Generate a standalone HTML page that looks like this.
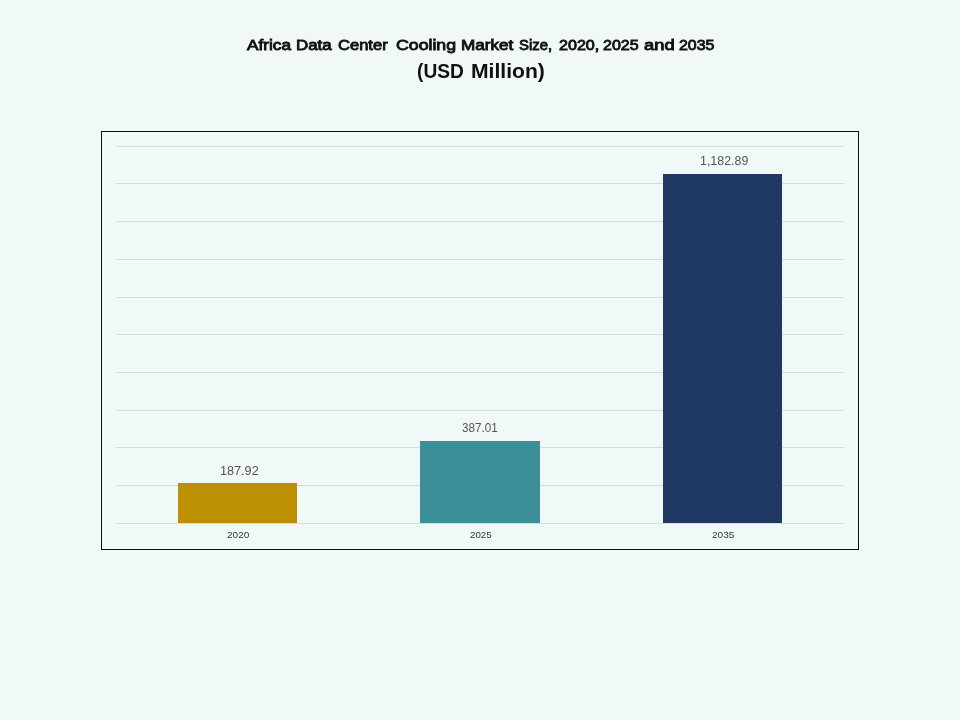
<!DOCTYPE html>
<html><head><meta charset="utf-8">
<style>
html,body{margin:0;padding:0;}
body{width:960px;height:720px;background:#f0f8f8;position:relative;overflow:hidden;font-family:"Liberation Sans",sans-serif;}
.abs{position:absolute;}
.frame{left:101px;top:131px;width:756px;height:417px;border:1.4px solid #0a0f0f;box-sizing:content-box;}
.g{left:116px;width:728px;height:1px;background:#d3dddd;}
.bar{position:absolute;}
.w{position:absolute;line-height:20px;white-space:nowrap;transform-origin:0 0;}
.w1{font-size:14.4px;-webkit-text-stroke:0.85px #111;color:#111;}
.w2{font-size:19.8px;font-weight:bold;color:#111;}
.v{font-size:12.7px;color:#555;}
.x{font-size:8.4px;color:#333;}
</style></head><body>
<div class="abs frame"></div>
<div class="abs g" style="top:146px"></div>
<div class="abs g" style="top:183px"></div>
<div class="abs g" style="top:221px"></div>
<div class="abs g" style="top:259px"></div>
<div class="abs g" style="top:297px"></div>
<div class="abs g" style="top:334px"></div>
<div class="abs g" style="top:372px"></div>
<div class="abs g" style="top:410px"></div>
<div class="abs g" style="top:447px"></div>
<div class="abs g" style="top:485px"></div>
<div class="abs g" style="top:523px"></div>
<div class="bar" style="left:178px;top:483px;width:119px;height:40px;background:#bd9003"></div>
<div class="bar" style="left:420px;top:441px;width:120px;height:82px;background:#3c8e98"></div>
<div class="bar" style="left:663px;top:174px;width:119px;height:349px;background:#203864"></div>
<div class="w w1" style="left:246.96px;top:34.99px;transform:scaleX(1.1957)">Africa</div>
<div class="w w1" style="left:295.84px;top:34.99px;transform:scaleX(1.1747)">Data</div>
<div class="w w1" style="left:338.22px;top:34.99px;transform:scaleX(1.1498)">Center</div>
<div class="w w1" style="left:395.98px;top:34.99px;transform:scaleX(1.2300)">Cooling</div>
<div class="w w1" style="left:460.64px;top:34.99px;transform:scaleX(1.1880)">Market</div>
<div class="w w1" style="left:519.39px;top:34.99px;transform:scaleX(1.0330)">Size,</div>
<div class="w w1" style="left:558.70px;top:34.99px;transform:scaleX(1.1184)">2020,</div>
<div class="w w1" style="left:602.71px;top:34.99px;transform:scaleX(1.1119)">2025</div>
<div class="w w1" style="left:643.78px;top:34.99px;transform:scaleX(1.2752)">and</div>
<div class="w w1" style="left:678.70px;top:34.99px;transform:scaleX(1.1069)">2035</div>
<div class="w w2" style="left:416.94px;top:60.60px;transform:scaleX(0.9684)">(USD</div>
<div class="w w2" style="left:470.97px;top:60.60px;transform:scaleX(1.0662)">Million)</div>
<div class="w v" style="left:219.79px;top:461.00px;transform:scaleX(0.9965)">187.92</div>
<div class="w v" style="left:462.49px;top:417.80px;transform:scaleX(0.9226)">387.01</div>
<div class="w v" style="left:700.39px;top:150.80px;transform:scaleX(0.9777)">1,182.89</div>
<div class="w x" style="left:226.74px;top:525.00px;transform:scaleX(1.1964)">2020</div>
<div class="w x" style="left:469.50px;top:525.06px;transform:scaleX(1.1573)">2025</div>
<div class="w x" style="left:711.62px;top:525.00px;transform:scaleX(1.1975)">2035</div>
</body></html>
